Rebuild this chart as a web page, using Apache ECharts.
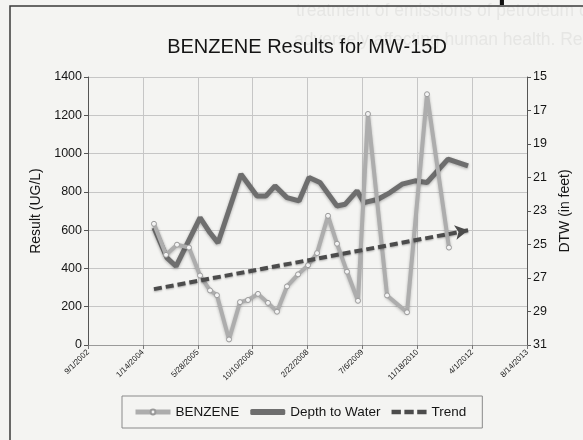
<!DOCTYPE html>
<html>
<head>
<meta charset="utf-8">
<title>BENZENE Results for MW-15D</title>
<script src="https://cdn.jsdelivr.net/npm/echarts@6/dist/echarts.min.js"></script>
<style>
  html, body { margin: 0; padding: 0; background: #f4f4f2; }
  #chart { width: 583px; height: 440px; }
</style>
</head>
<body>
<div id="chart"></div>
<script>
// sample dates and values
const benzeneDates = ['4/24/2004', '8/12/2004', '11/20/2004', '3/9/2005', '6/18/2005', '9/17/2005',
  '11/19/2005', '3/9/2006', '6/17/2006', '8/29/2006', '11/28/2006', '2/27/2007', '5/20/2007',
  '8/19/2007', '11/28/2007', '2/27/2008', '5/19/2008', '8/27/2008', '11/17/2008', '2/16/2009',
  '5/27/2009', '8/26/2009', '2/16/2010', '8/17/2010', '2/15/2011', '9/3/2011'];
const benzeneValues = [633, 471, 524, 509, 363, 285, 260, 29, 224, 235, 267, 220, 174,
  306, 369, 417, 480, 675, 529, 383, 231, 1207, 259, 171, 1310, 509];

const dtwDates = ['4/24/2004', '8/21/2004', '11/11/2004', '6/18/2005', '9/17/2005', '11/29/2005',
  '6/26/2006', '11/19/2006', '2/9/2007', '5/2/2007', '8/19/2007', '12/7/2007', '3/7/2008',
  '6/15/2008', '11/17/2008', '1/29/2009', '5/18/2009', '7/21/2009', '11/25/2009', '3/15/2010',
  '7/2/2010', '10/29/2010', '2/15/2011', '8/25/2011', '2/24/2012'];
const dtwValues = [24.0, 25.8, 26.3, 23.4, 24.3, 24.9, 20.8, 22.1, 22.1, 21.5, 22.2, 22.4, 21.0,
  21.3, 22.7, 22.6, 21.8, 22.5, 22.3, 21.9, 21.4, 21.2, 21.3, 19.9, 20.3];

const trendDates = ['4/24/2004', '2/24/2012'];
const trendValues = [292, 599];

// axis starts 9/1/2002, ticks every 500 days
const axisStart = Date.UTC(2002, 8, 1);
const DAY = 86400000;

function dayOffset(s) {
    const p = s.split('/');
    return (Date.UTC(+p[2], +p[0] - 1, +p[1]) - axisStart) / DAY;
}
function dateLabel(v) {
    const d = new Date(axisStart + v * DAY);
    return (d.getUTCMonth() + 1) + '/' + d.getUTCDate() + '/' + d.getUTCFullYear();
}
function pairs(dates, values) {
    return dates.map((d, i) => [dayOffset(d), values[i]]);
}

const font = 'Liberation Sans, Arial, sans-serif';
const chart = echarts.init(document.getElementById('chart'));

const trendData = pairs(trendDates, trendValues);
// arrow head on the last point of the trend
trendData[trendData.length - 1] = {
    value: trendData[trendData.length - 1],
    symbol: 'arrow',
    symbolSize: [11, 13],
    symbolRotate: -80
};

const option = {
    backgroundColor: '#f4f4f2',
    textStyle: { fontFamily: font },
    title: {
        text: 'BENZENE Results for MW-15D',
        left: 302,
        top: 32,
        textAlign: 'center',
        textStyle: { fontSize: 20, fontWeight: 'normal', color: '#151515', fontFamily: font }
    },
    graphic: [
        // page frame of the scan
        { type: 'rect', shape: { x: 10, y: 6, width: 590, height: 450 },
          style: { fill: 'none', stroke: '#3a3a3a', lineWidth: 1.5 }, silent: true, z: -1 },
        // bleed-through text from the back of the page
        { type: 'text', left: 296, top: 2, z: -2, silent: true,
          style: { text: 'treatment of emissions of petroleum c', fontSize: 17.5, fill: '#e6e6e4', fontFamily: font } },
        { type: 'text', left: 294, top: 31, z: -2, silent: true,
          style: { text: 'adversely affecting human health. Rest', fontSize: 17.5, fill: '#e6e6e4', fontFamily: font } },
        // heading of the page above the frame, cut by the crop
        { type: 'text', left: 446, top: -24, silent: true,
          style: { text: 'deep', fontSize: 30, fontWeight: 'bold', fill: '#111', fontFamily: font } }
    ],
    grid: { left: 88, right: 56, top: 77, bottom: 95 },
    legend: {
        left: 122,
        top: 396,
        padding: [9, 16, 9, 11],
        itemWidth: 35,
        itemHeight: 6,
        itemGap: 11,
        borderColor: '#8a8a8a',
        borderWidth: 1,
        textStyle: { fontSize: 13.5, color: '#151515', fontFamily: font },
        data: [
            { name: 'BENZENE', lineStyle: { width: 5 } },
            { name: 'Depth to Water', icon: 'roundRect' },
            { name: 'Trend', icon: 'path://M0,0h8v4h-8z M11,0h8v4h-8z M22,0h8v4h-8z' }
        ]
    },
    xAxis: {
        type: 'value',
        min: 0,
        max: 4000,
        interval: 500,
        axisLine: { show: true, lineStyle: { color: '#9a9a9a' } },
        axisTick: { show: true, length: 4, lineStyle: { color: '#777' } },
        splitLine: { show: true, lineStyle: { color: '#c6c6c6' } },
        axisLabel: {
            rotate: 45,
            fontSize: 8,
            color: '#222',
            margin: 6,
            showMinLabel: true,
            showMaxLabel: true,
            formatter: dateLabel
        }
    },
    yAxis: [
        {
            type: 'value',
            min: 0,
            max: 1400,
            interval: 200,
            name: 'Result (UG/L)',
            nameLocation: 'middle',
            nameGap: 34,
            nameTextStyle: { fontSize: 14, color: '#151515' },
            axisLine: { show: true, lineStyle: { color: '#555' } },
            axisTick: { show: true, length: 4, lineStyle: { color: '#555' } },
            splitLine: { show: true, lineStyle: { color: '#c6c6c6' } },
            axisLabel: { fontSize: 12.5, color: '#151515', margin: 6, formatter: v => String(v) }
        },
        {
            type: 'value',
            min: 15,
            max: 31,
            interval: 2,
            inverse: true,
            position: 'right',
            name: 'DTW (in feet)',
            nameLocation: 'middle',
            nameRotate: 90,
            nameGap: 29,
            nameTextStyle: { fontSize: 14, color: '#151515' },
            axisLine: { show: true, lineStyle: { color: '#555' } },
            axisTick: { show: true, length: 4, lineStyle: { color: '#555' } },
            splitLine: { show: false },
            axisLabel: { fontSize: 12.5, color: '#151515', margin: 6 }
        }
    ],
    series: [
        {
            name: 'Depth to Water',
            type: 'line',
            yAxisIndex: 1,
            data: pairs(dtwDates, dtwValues),
            symbol: 'none',
            lineStyle: { color: '#6e6e6e', width: 5, shadowColor: 'rgba(0,0,0,0.3)', shadowBlur: 3, shadowOffsetY: 1 },
            itemStyle: { color: '#6e6e6e' },
            z: 2
        },
        {
            name: 'BENZENE',
            type: 'line',
            yAxisIndex: 0,
            data: pairs(benzeneDates, benzeneValues),
            symbol: 'circle',
            symbolSize: 5,
            showSymbol: true,
            lineStyle: { color: '#adadad', width: 4, shadowColor: 'rgba(0,0,0,0.25)', shadowBlur: 3, shadowOffsetY: 1 },
            itemStyle: { color: '#f3f3f3', borderColor: '#9a9a9a', borderWidth: 1 },
            z: 3
        },
        {
            name: 'Trend',
            type: 'line',
            yAxisIndex: 0,
            data: trendData,
            symbol: 'none',
            lineStyle: { color: '#4c4c4c', width: 4, type: [8, 4], shadowColor: 'rgba(0,0,0,0.3)', shadowBlur: 2, shadowOffsetY: 1 },
            itemStyle: { color: '#4c4c4c' },
            z: 4
        }
    ]
};

chart.setOption(option);
</script>
</body>
</html>
